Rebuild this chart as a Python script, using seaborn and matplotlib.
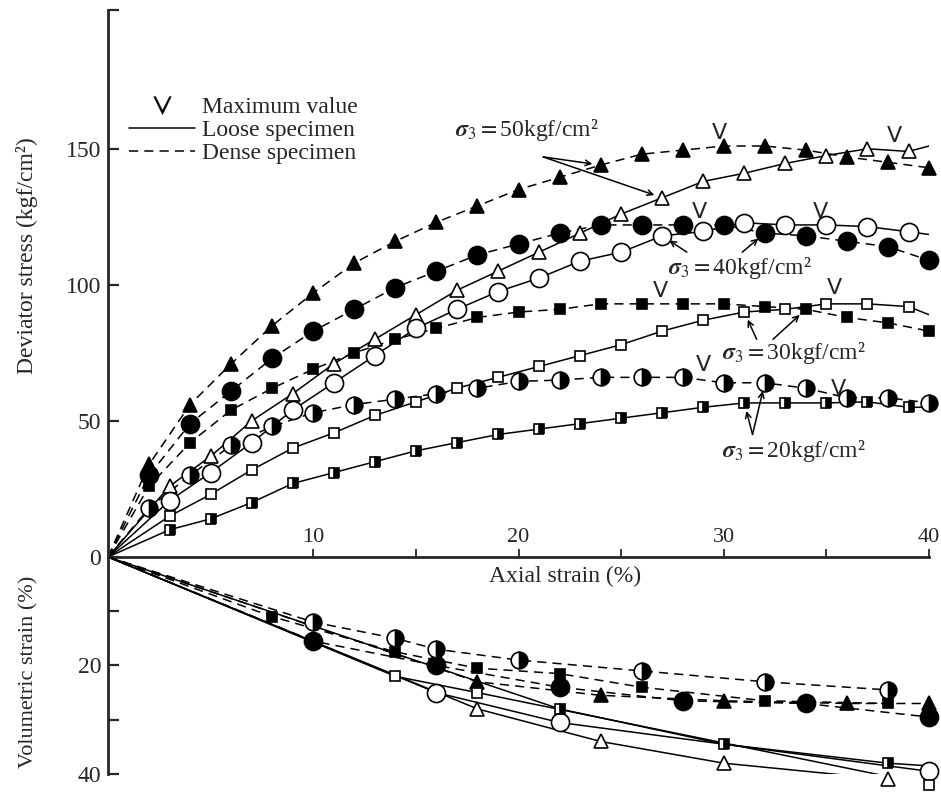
import matplotlib
matplotlib.use("Agg")
import matplotlib.pyplot as plt
from matplotlib.lines import Line2D
import numpy as np
import seaborn as sns

sns.set_style("ticks")
plt.rcParams["font.family"] = ["Liberation Serif", "DejaVu Serif"]
plt.rcParams["mathtext.fontset"] = "stix"

# ---- deviator stress (kgf/cm2) vs axial strain (%) ----
even_x = [2, 4, 6, 8, 10, 12, 14, 16, 18, 20, 22, 24, 26, 28, 30, 32, 34, 36, 38, 40]
odd_x = [3, 5, 7, 9, 11, 13, 15, 17, 19, 21, 23, 25, 27, 29, 31, 33, 35, 37, 39]

dense50_q = [34, 56, 71, 85, 97, 108, 116, 123, 129, 135, 139.5, 144, 148, 149.5, 151, 151, 149.5, 147, 145, 143]
dense40_q = [30, 49, 61, 73, 83, 91, 99, 105, 111, 115, 119, 122, 122, 122, 122, 119, 118, 116, 114, 109]
dense30_q = [26, 42, 54, 62, 69, 75, 80, 84, 88, 90, 91, 93, 93, 93, 93, 92, 91, 88, 86, 83]
dense20_q = [18, 30, 41, 48, 53, 56, 58, 60, 62, 64.5, 65, 66, 66, 66, 64, 64, 62, 58.5, 58.5, 56.6]

loose50_q = [26, 37, 50, 60, 71, 80, 89, 98, 105, 112, 119, 126, 132, 138, 141, 144.6, 147.5, 150, 149]
loose40_q = [20.7, 31, 42, 54, 64, 74, 84, 91, 97.5, 102.5, 108.7, 112, 118, 119.6, 122.8, 122, 122, 121.4, 119.5]
loose30_q = [15, 23, 32, 40, 45.6, 52, 57, 62, 66, 70, 74, 78, 83, 87, 90, 91, 93, 93, 92]
loose20_q = [10, 14, 20, 27, 31, 35, 39, 42, 45, 47, 49, 51, 53, 55, 56.6, 56.6, 56.6, 57, 55]
loose_end_q = {"50": 151, "40": 118.5, "30": 89, "20": 55}

# maximum value marks (strain, stress)
peak_x = [29.8, 38.3, 28.8, 34.7, 26.9, 35.4, 29.0, 35.6]
peak_q = [151, 150, 122, 122, 93, 94, 66, 57]

# ---- volumetric strain (%) vs axial strain (%) ----
vol_dense50_x = [18, 24, 30, 36, 40]
vol_dense50 = [23, 25.5, 26.5, 27, 27]
vol_dense40_x = [10, 16, 22, 28, 34, 40]
vol_dense40 = [15.5, 20, 24, 26.5, 27, 29.5]
vol_dense30_x = [8, 14, 18, 22, 26, 32, 38]
vol_dense30 = [11, 17.5, 20.5, 21.5, 24, 26.5, 27]
vol_dense20_x = [10, 14, 16, 20, 26, 32, 38]
vol_dense20 = [12, 15, 17, 19, 21, 23, 24.5]

vol_loose50_x = [18, 24, 30, 38]
vol_loose50 = [28, 34, 38, 41]
vol_loose40_x = [16, 22, 40]
vol_loose40 = [25, 30.5, 39.5]
vol_loose30_x = [14, 18, 40]
vol_loose30 = [22, 25, 42]
vol_loose20_x = [22, 30, 38]
vol_loose20 = [28, 34.5, 38]
vol_loose_end = {"50": 41.5, "40": 39.5, "30": 42, "20": 38.5}

DASH = (0, (6, 4))
SIG = r"$\mathbfit{\sigma}_3 = $"


def curve(ax, xs, ys, marker, ms, face, ls, end_q=None, fill="full"):
    lx = [0] + list(xs) + ([40] if end_q is not None else [])
    ly = [0] + list(ys) + ([end_q] if end_q is not None else [])
    sns.lineplot(x=lx, y=ly, ax=ax, color="k", lw=1.1, linestyle=ls,
                 estimator=None, sort=False)
    kws = dict(markerfacecolor=face, markeredgecolor="k", markeredgewidth=1.2)
    if fill != "full":
        kws.update(fillstyle=fill, markerfacecoloralt="w")
    sns.lineplot(x=list(xs), y=list(ys), ax=ax, color="k", linestyle="none",
                 marker=marker, markersize=ms, estimator=None, sort=False,
                 clip_on=False, zorder=4, **kws)


fig = plt.figure(figsize=(9.41, 7.96), dpi=100)
fig.patch.set_facecolor("white")
ax1 = fig.add_axes([0.1148, 0.3003, 0.8725, 0.6872])
ax2 = fig.add_axes([0.1148, 0.0276, 0.8725, 0.2727])

# upper panel
curve(ax1, even_x, dense50_q, "^", 10, "k", DASH)
curve(ax1, even_x, dense40_q, "o", 13, "k", DASH)
curve(ax1, even_x, dense30_q, "s", 7, "k", DASH)
curve(ax1, even_x, dense20_q, "o", 12, "k", DASH, fill="right")
curve(ax1, odd_x, loose50_q, "^", 10, "w", "-", loose_end_q["50"])
curve(ax1, odd_x, loose40_q, "o", 13, "w", "-", loose_end_q["40"])
curve(ax1, odd_x, loose30_q, "s", 7, "w", "-", loose_end_q["30"])
curve(ax1, odd_x, loose20_q, "s", 7, "k", "-", loose_end_q["20"], fill="right")

for px, pq in zip(peak_x, peak_q):
    ax1.text(px, pq + 1, "V", ha="center", va="bottom", fontsize=16,
             family="DejaVu Sans")

# lower panel
curve(ax2, vol_dense50_x, vol_dense50, "^", 10, "k", DASH)
curve(ax2, vol_dense40_x, vol_dense40, "o", 13, "k", DASH)
curve(ax2, vol_dense30_x, vol_dense30, "s", 7, "k", DASH)
curve(ax2, vol_dense20_x, vol_dense20, "o", 12, "k", DASH, fill="right")
curve(ax2, vol_loose50_x, vol_loose50, "^", 10, "w", "-", vol_loose_end["50"])
curve(ax2, vol_loose40_x, vol_loose40, "o", 13, "w", "-", vol_loose_end["40"])
curve(ax2, vol_loose30_x, vol_loose30, "s", 7, "w", "-", vol_loose_end["30"])
curve(ax2, vol_loose20_x, vol_loose20, "s", 7, "k", "-", vol_loose_end["20"], fill="right")

# axes styling
for ax in (ax1, ax2):
    ax.set_xlim(0, 40)
    ax.set_facecolor("none")
    for s in ("top", "right"):
        ax.spines[s].set_visible(False)
    ax.spines["left"].set_linewidth(2)

ax1.set_ylim(0, 201)
ax1.spines["bottom"].set_linewidth(2)
ax1.set_yticks([0, 50, 100, 150])
ax1.set_yticks([201], minor=True)
ax1.tick_params(axis="y", which="both", direction="in", length=8, width=1.6,
                labelsize=17, pad=5)
ax1.set_xticks([10, 15, 20, 25, 30, 35, 40])
ax1.set_xticklabels(["10", "", "20", "", "30", "", "40"])
ax1.tick_params(axis="x", direction="in", length=6, width=1.3, labelsize=16,
                pad=-21)
ax1.set_ylabel("Deviator stress (kgf/cm²)", fontsize=17)
ax1.yaxis.set_label_coords(-0.085, 0.55)
ax1.set_xlabel("")

ax2.set_ylim(40, 0)
ax2.spines["bottom"].set_visible(False)
ax2.set_xticks([])
ax2.set_yticks([10, 20, 30, 40])
ax2.set_yticklabels(["", "20", "", "40"])
ax2.tick_params(axis="y", direction="in", length=8, width=1.6, labelsize=17, pad=5)
ax2.set_ylabel("Volumetric strain (%)", fontsize=16)
ax2.yaxis.set_label_coords(-0.085, 0.47)
ax2.set_xlabel("")
ax2.text(0.557, 0.96, "Axial strain (%)", transform=ax2.transAxes,
         ha="center", va="top", fontsize=17)

# legend
handles = [
    Line2D([], [], ls="none", marker=r"$\vee$", ms=13, color="k", mew=0.2),
    Line2D([], [], ls="-", color="k", lw=1.1),
    Line2D([], [], ls=DASH, color="k", lw=1.1),
]
ax1.legend(handles, ["Maximum value", "Loose specimen", "Dense specimen"],
           loc="upper left", bbox_to_anchor=(0.0, 0.88), frameon=False,
           fontsize=17, handlelength=2.8, handletextpad=0.3, labelspacing=0.05)

# sigma_3 labels and arrows
arrow = dict(arrowstyle="->", color="k", lw=1.1, shrinkA=0, shrinkB=6)
ax1.text(16.9, 157, SIG + "50kgf/cm²", fontsize=17, va="center")
ax1.annotate("", xy=(even_x[11], dense50_q[11]), xytext=(21.2, 147), arrowprops=arrow)
ax1.annotate("", xy=(odd_x[12], loose50_q[12]), xytext=(21.2, 147), arrowprops=arrow)

ax1.text(27.3, 106, SIG + "40kgf/cm²", fontsize=17, va="center")
ax1.annotate("", xy=(odd_x[12], loose40_q[12]), xytext=(28.2, 112), arrowprops=arrow)
ax1.annotate("", xy=(even_x[15], dense40_q[15]), xytext=(30.9, 112), arrowprops=arrow)

ax1.text(29.9, 75, SIG + "30kgf/cm²", fontsize=17, va="center")
ax1.annotate("", xy=(odd_x[14], loose30_q[14]), xytext=(31.6, 80), arrowprops=arrow)
ax1.annotate("", xy=(even_x[16], dense30_q[16]), xytext=(32.4, 80), arrowprops=arrow)

ax1.text(29.9, 39, SIG + "20kgf/cm²", fontsize=17, va="center")
ax1.annotate("", xy=(odd_x[14], loose20_q[14]), xytext=(31.4, 45), arrowprops=arrow)
ax1.annotate("", xy=(even_x[15], dense20_q[15]), xytext=(31.4, 45), arrowprops=arrow)

fig.savefig("out.png", dpi=100, facecolor="white")
